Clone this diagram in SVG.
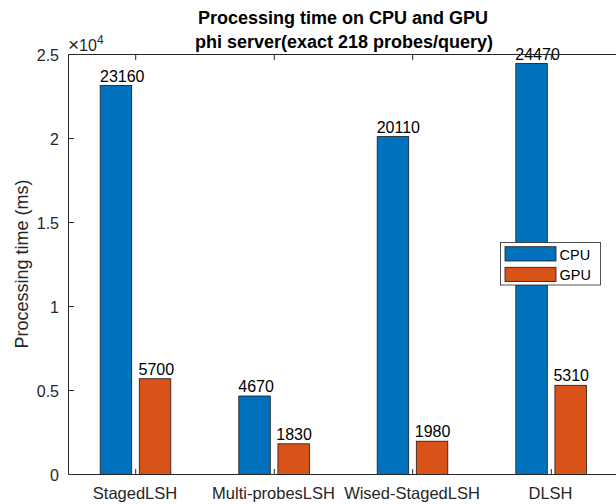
<svg xmlns="http://www.w3.org/2000/svg" width="616" height="504" viewBox="0 0 616 504">
  <style>
    text { font-family: "Liberation Sans", Arial, sans-serif; fill: #262626; }
    .title { font-size: 18px; font-weight: bold; fill: #000; text-anchor: middle; }
    .tick { font-size: 16px; text-anchor: end; }
    .cat { font-size: 16.5px; text-anchor: middle; }
    .val { font-size: 16px; fill: #000; }
    .ylab { font-size: 18px; text-anchor: middle; }
    .leg { font-size: 14.5px; fill: #000; }
    .axis { stroke: #262626; stroke-width: 1; fill: none; }
    .cpu { fill: #0072BD; stroke: #1a1a1a; stroke-width: 0.8; }
    .gpu { fill: #D95319; stroke: #1a1a1a; stroke-width: 0.8; }
  </style>

  <rect x="0" y="0" width="616" height="504" fill="#fff"/>

  <!-- title -->
  <text class="title" x="343" y="24">Processing time on CPU and GPU</text>
  <text class="title" x="344" y="48">phi server(exact 218 probes/query)</text>

  <!-- bars -->
  <g id="bars">
    <g id="staged-lsh">
      <rect class="cpu" x="100.2" y="85.4" width="31.5" height="389.1"/>
      <rect class="gpu" x="139.3" y="378.7" width="31.5" height="95.8"/>
      <text class="val" x="100" y="81.5">23160</text>
      <text class="val" x="138.5" y="374.7">5700</text>
    </g>
    <g id="multi-probes-lsh">
      <rect class="cpu" x="238.8" y="396" width="31.5" height="78.5"/>
      <rect class="gpu" x="277.9" y="443.8" width="31.5" height="30.7"/>
      <text class="val" x="238.3" y="392">4670</text>
      <text class="val" x="276.3" y="439.8">1830</text>
    </g>
    <g id="wised-staged-lsh">
      <rect class="cpu" x="377.2" y="136.6" width="31.5" height="337.9"/>
      <rect class="gpu" x="416.3" y="441.2" width="31.5" height="33.3"/>
      <text class="val" x="376.7" y="132.6">20110</text>
      <text class="val" x="414.8" y="437.2">1980</text>
    </g>
    <g id="dlsh">
      <rect class="cpu" x="515.8" y="63.4" width="31.5" height="411.1"/>
      <rect class="gpu" x="554.9" y="385.3" width="31.5" height="89.2"/>
      <text class="val" x="515.3" y="59.5">24470</text>
      <text class="val" x="553.4" y="381.3">5310</text>
    </g>
  </g>

  <!-- axes frame and ticks -->
  <g id="axes">
    <path class="axis" d="M68.5 54.5 H621.5 M68.5 474.5 H621.5 M68.5 54.5 V474.5 M621.5 54.5 V474.5"/>
    <path class="axis" d="M68.5 138.5 h5.5 M68.5 222.5 h5.5 M68.5 306.5 h5.5 M68.5 390.5 h5.5
                          M621.5 138.5 h-5.5 M621.5 222.5 h-5.5 M621.5 306.5 h-5.5 M621.5 390.5 h-5.5
                          M135.7 474.5 v-5.5 M274.3 474.5 v-5.5 M412.7 474.5 v-5.5 M551.3 474.5 v-5.5
                          M135.7 54.5 v5.5 M274.3 54.5 v5.5 M412.7 54.5 v5.5 M551.3 54.5 v5.5"/>
    <text class="tick" x="59" y="60.5">2.5</text>
    <text class="tick" x="59" y="144.5">2</text>
    <text class="tick" x="59" y="228.5">1.5</text>
    <text class="tick" x="59" y="312.5">1</text>
    <text class="tick" x="59" y="396.5">0.5</text>
    <text class="tick" x="59" y="480.5">0</text>
    <text x="68" y="50.5" style="font-size:16px"><tspan style="font-size:19px">×</tspan>10<tspan dy="-7" style="font-size:12px">4</tspan></text>

    <text class="cat" x="135" y="499">StagedLSH</text>
    <text class="cat" x="273.5" y="499">Multi-probesLSH</text>
    <text class="cat" x="412" y="499">Wised-StagedLSH</text>
    <text class="cat" x="550.5" y="499">DLSH</text>

    <text class="ylab" transform="translate(28,264) rotate(-90)">Processing time (ms)</text>
  </g>

  <!-- legend -->
  <g id="legend">
    <rect x="500.5" y="242.5" width="100" height="42.5" fill="#fff" stroke="#262626" stroke-width="0.8"/>
    <rect class="cpu" x="505" y="246.7" width="51" height="14.3"/>
    <rect class="gpu" x="505" y="267.3" width="51" height="14.3"/>
    <text class="leg" x="559.5" y="259.5">CPU</text>
    <text class="leg" x="559.5" y="280">GPU</text>
  </g>
</svg>
